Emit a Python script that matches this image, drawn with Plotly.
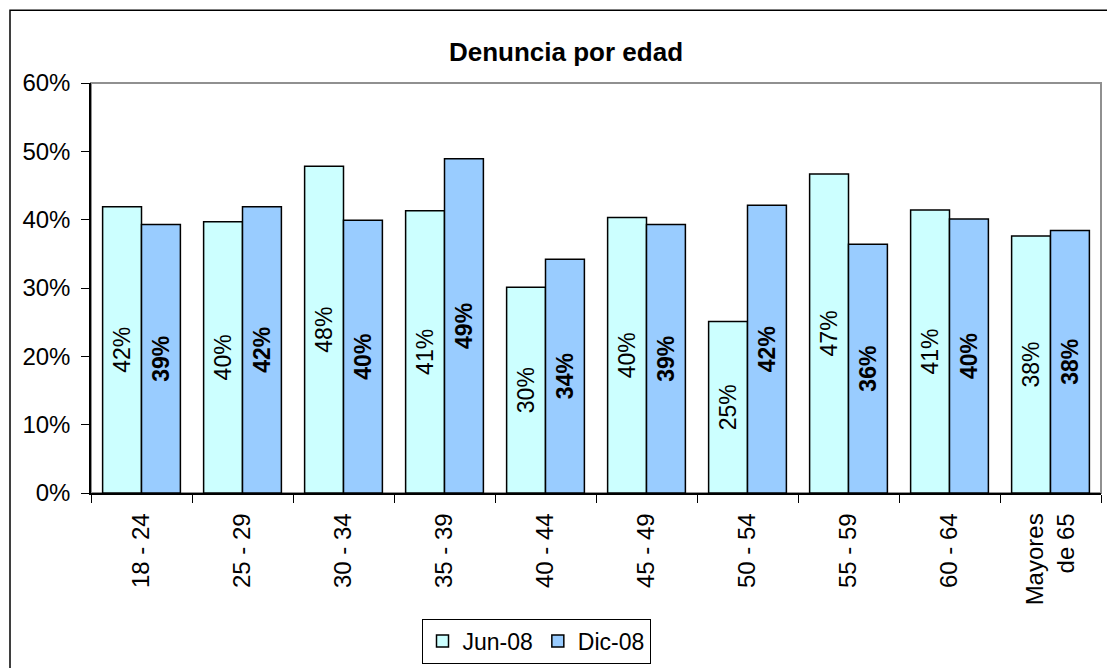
import plotly.graph_objects as go

categories = ["18 - 24", "25 - 29", "30 - 34", "35 - 39", "40 - 44",
              "45 - 49", "50 - 54", "55 - 59", "60 - 64", "Mayores<br>de 65"]
jun_08 = [0.419, 0.397, 0.478, 0.413, 0.301, 0.403, 0.251, 0.467, 0.414, 0.376]
dic_08 = [0.393, 0.419, 0.399, 0.489, 0.342, 0.393, 0.421, 0.364, 0.401, 0.384]

FONT = "Liberation Sans, Arial, sans-serif"

fig = go.Figure()
fig.add_trace(go.Bar(
    x=categories, y=jun_08, name="Jun-08",
    marker=dict(color="#CCFFFF", line=dict(color="black", width=1.5)),
    texttemplate="%{y:.0%}", textposition="inside", insidetextanchor="middle",
    textangle=-90, textfont=dict(size=23, color="black", family=FONT),
))
fig.add_trace(go.Bar(
    x=categories, y=dic_08, name="Dic-08",
    marker=dict(color="#99CCFF", line=dict(color="black", width=1.5)),
    texttemplate="<b>%{y:.0%}</b>", textposition="inside", insidetextanchor="middle",
    textangle=-90, textfont=dict(size=23, color="black", family=FONT),
))

fig.update_layout(
    width=1107, height=668,
    margin=dict(l=91, r=6, t=83, b=174),
    paper_bgcolor="white", plot_bgcolor="white",
    font=dict(family=FONT, size=23, color="black"),
    barmode="group", bargap=0.23, bargroupgap=0,
    uniformtext=dict(minsize=23, mode="show"),
    title=dict(text="<b>Denuncia por edad</b>", x=566 / 1107, xanchor="center",
               xref="container", y=1 - 52 / 668, yanchor="middle",
               font=dict(size=26)),
    showlegend=True,
    legend=dict(orientation="h", x=0.4406, xanchor="center", y=-0.358, yanchor="middle",
                bordercolor="black", borderwidth=1, font=dict(size=23),
                itemwidth=30, traceorder="normal"),
    xaxis=dict(showline=True, linecolor="black", linewidth=1.5, ticks="outside",
               tickson="boundaries", ticklen=8, tickcolor="black", tickangle=-90,
               showgrid=False, tickfont=dict(size=24), ticklabelstandoff=9),
    yaxis=dict(range=[0, 0.6], dtick=0.1, tickformat=".0%", showline=True,
               linecolor="black", linewidth=1.5, ticks="outside", ticklen=8,
               tickcolor="black", showgrid=False, zeroline=False,
               tickfont=dict(size=24), ticklabelstandoff=6),
    shapes=[
        dict(type="rect", xref="paper", yref="paper", x0=0, x1=1, y0=0, y1=1,
             line=dict(color="#909090", width=2), layer="below"),
        dict(type="rect", xref="paper", yref="paper", x0=(10 - 91) / 1010, x1=1.2,
             y0=-0.6, y1=1 + (83 - 10) / 411, line=dict(color="black", width=1.5)),
    ],
)

fig.write_html("out.html", config={"displayModeBar": False},
               post_script="document.body.style.margin='0';")
